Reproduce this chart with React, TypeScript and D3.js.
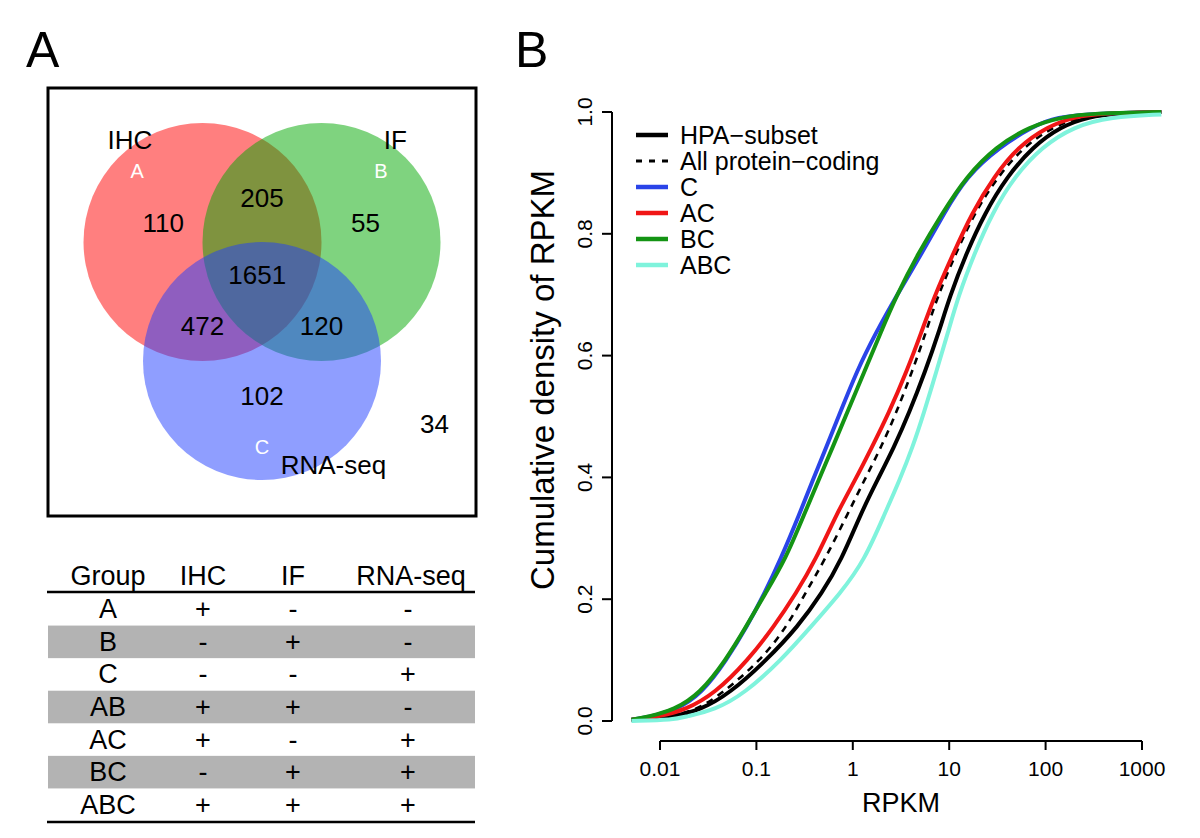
import React from "react";
import * as d3 from "d3";

const FONT = "'Liberation Sans', Arial, Helvetica, sans-serif";

// ---------- Panel A: Venn ----------
const vennSets = ["IHC", "IF", "RNA-seq"];
const vennLetters = ["A", "B", "C"];
const vennFills = ["#ff0000", "#00a800", "#1f3dff"];
const vennCentersU: [number, number][] = [[-0.5, 0], [0.5, 0], [0, 1]];
const vennSetLabelPos: [number, number][] = [[-1.11, -0.86], [1.12, -0.86], [0.6, 1.87]];
const vennLetterPos: [number, number][] = [[-1.05, -0.6], [1.0, -0.6], [0, 1.72]];
const vennRegionLabels = ["110", "205", "55", "1651", "472", "120", "102", "34"];
const vennRegionPos: [number, number][] = [
  [-0.83, -0.16], [0, -0.37], [0.87, -0.16], [-0.04, 0.28],
  [-0.5, 0.71], [0.5, 0.71], [0, 1.29], [1.45, 1.53],
];

// ---------- Panel A: table ----------
const tableHeader = ["Group", "IHC", "IF", "RNA-seq"];
const tableGroups = ["A", "B", "C", "AB", "AC", "BC", "ABC"];
const tableIHC = ["+", "-", "-", "+", "+", "-", "+"];
const tableIF = ["-", "+", "-", "+", "-", "+", "+"];
const tableRNA = ["-", "-", "+", "-", "+", "+", "+"];

// ---------- Panel B: cumulative density curves [RPKM, cdf] ----------
const hpaSubset: [number, number][] = [
  [0.00506, 0.002], [0.014, 0.007], [0.026, 0.018], [0.0527, 0.045], [0.1274, 0.1],
  [0.27, 0.155], [0.48, 0.21], [0.76, 0.264], [1.213, 0.341], [1.805, 0.396],
  [2.686, 0.45], [3.826, 0.505], [5.695, 0.576], [7.761, 0.637], [10.12, 0.697],
  [15.05, 0.768], [23.42, 0.834], [39.8, 0.894], [73.88, 0.943], [143.4, 0.976],
  [278.2, 0.992], [564, 0.998], [1586, 1.0],
];
const allProteinCoding: [number, number][] = [
  [0.00506, 0.002], [0.0128, 0.007], [0.0238, 0.018], [0.0441, 0.045], [0.1116, 0.1],
  [0.2071, 0.155], [0.3221, 0.21], [0.51, 0.264], [0.8903, 0.341], [1.325, 0.396],
  [1.972, 0.45], [2.808, 0.505], [4.179, 0.576], [5.695, 0.637], [7.558, 0.697],
  [11.75, 0.768], [18.28, 0.834], [31.91, 0.894], [59.23, 0.943], [120.1, 0.976],
  [233, 0.992], [472.6, 0.998], [1586, 1.0],
];
const groupC: [number, number][] = [
  [0.00506, 0.002], [0.00788, 0.007], [0.0146, 0.018], [0.0271, 0.045], [0.049, 0.1],
  [0.0798, 0.155], [0.1219, 0.21], [0.1766, 0.264], [0.2823, 0.341], [0.3845, 0.396],
  [0.5332, 0.45], [0.7329, 0.505], [1.11, 0.576], [1.727, 0.637], [2.808, 0.697],
  [5.21, 0.768], [8.859, 0.834], [15.05, 0.894], [33.36, 0.943], [73.88, 0.976],
  [125.5, 0.992], [362.5, 0.998], [1586, 1.0],
];
const groupAC: [number, number][] = [
  [0.00506, 0.002], [0.00982, 0.007], [0.0182, 0.018], [0.037, 0.045], [0.0819, 0.1],
  [0.1521, 0.155], [0.2584, 0.21], [0.41, 0.264], [0.6827, 0.341], [1.062, 0.396],
  [1.581, 0.45], [2.354, 0.505], [3.661, 0.576], [5.122, 0.637], [6.98, 0.697],
  [11.05, 0.768], [17.18, 0.834], [29.21, 0.894], [51.88, 0.943], [105.2, 0.976],
  [195.3, 0.992], [396, 0.998], [1586, 1.0],
];
const groupBC: [number, number][] = [
  [0.00506, 0.002], [0.00753, 0.007], [0.014, 0.018], [0.026, 0.045], [0.0482, 0.1],
  [0.0784, 0.155], [0.1241, 0.21], [0.1982, 0.264], [0.3166, 0.341], [0.443, 0.396],
  [0.6197, 0.45], [0.8671, 0.505], [1.337, 0.576], [1.938, 0.637], [2.808, 0.697],
  [4.77, 0.768], [8.475, 0.834], [15.05, 0.894], [30.53, 0.943], [67.6, 0.976],
  [149.9, 0.992], [303.8, 0.998], [1586, 1.0],
];
const groupABC: [number, number][] = [
  [0.00506, 0.0], [0.014, 0.002], [0.0182, 0.007], [0.037, 0.018], [0.075, 0.045],
  [0.1814, 0.1], [0.368, 0.155], [0.746, 0.21], [1.325, 0.264], [2.154, 0.341],
  [3.069, 0.396], [4.179, 0.45], [5.449, 0.505], [7.424, 0.576], [9.679, 0.637],
  [12.39, 0.697], [18.28, 0.768], [27.95, 0.834], [47.5, 0.894], [92.15, 0.943],
  [195.3, 0.976], [472.6, 0.992], [1586, 0.996],
];

const seriesNames = ["HPA\u2212subset", "All protein\u2212coding", "C", "AC", "BC", "ABC"];
const seriesData = [hpaSubset, allProteinCoding, groupC, groupAC, groupBC, groupABC];
const seriesColors = ["#000000", "#000000", "#2a44e8", "#f01616", "#149414", "#7ff3dc"];
const seriesDash = ["", "7,6", "", "", "", ""];
const seriesWidth = [4, 2.6, 4, 4, 4, 4];

const xTicks = [0.01, 0.1, 1, 10, 100, 1000];
const xTickLabels = ["0.01", "0.1", "1", "10", "100", "1000"];
const yTicks = [0, 0.2, 0.4, 0.6, 0.8, 1.0];

export default function App() {
  // Venn geometry
  const vx = d3.scaleLinear().domain([0, 1]).range([262, 381]);
  const vy = d3.scaleLinear().domain([0, 1]).range([242, 361]);
  const r = vx(1) - vx(0);

  // table geometry
  const colX = [108, 203, 293, 408];
  const headColX = [108, 203, 293, 411];
  const rowY = d3.scaleBand<number>().domain(d3.range(tableGroups.length)).range([593, 821]);

  // curves
  const x = d3.scaleLog().domain([0.01, 1000]).range([660, 1142]);
  const y = d3.scaleLinear().domain([0, 1]).range([721, 112]);
  const line = d3
    .line<[number, number]>()
    .x((d) => x(d[0]))
    .y((d) => y(d[1]))
    .curve(d3.curveBasis);

  const legendY = d3.scaleLinear().domain([0, 1]).range([135, 161]);

  return (
    <svg width={1200} height={838} style={{ display: "block", position: "absolute", left: 0, top: 0, background: "#fff" }} fontFamily={FONT}>
      <rect x={0} y={0} width={1200} height={838} fill="#fff" />
      {/* panel letters */}
      <text x={26} y={67} fontSize={50}>A</text>
      <text x={515} y={67} fontSize={50}>B</text>

      {/* Venn */}
      <rect x={48} y={88} width={428} height={428} fill="none" stroke="#000" strokeWidth={3} />
      {vennCentersU.map((c, i) => (
        <circle key={i} cx={vx(c[0])} cy={vy(c[1])} r={r} fill={vennFills[i]} fillOpacity={0.5} />
      ))}
      {vennSets.map((s, i) => (
        <text key={s} x={vx(vennSetLabelPos[i][0])} y={vy(vennSetLabelPos[i][1])} fontSize={26} textAnchor="middle" dominantBaseline="central">{s}</text>
      ))}
      {vennLetters.map((s, i) => (
        <text key={s} x={vx(vennLetterPos[i][0])} y={vy(vennLetterPos[i][1])} fontSize={20} fill="#fff" textAnchor="middle" dominantBaseline="central">{s}</text>
      ))}
      {vennRegionLabels.map((s, i) => (
        <text key={s} x={vx(vennRegionPos[i][0])} y={vy(vennRegionPos[i][1])} fontSize={26} textAnchor="middle" dominantBaseline="central">{s}</text>
      ))}

      {/* Table */}
      {tableGroups.map((g, i) =>
        i % 2 === 1 ? (
          <rect key={"bg" + g} x={48} y={rowY(i)!} width={427} height={rowY.bandwidth()} fill="#b3b3b3" />
        ) : null
      )}
      {tableHeader.map((h, i) => (
        <text key={h} x={headColX[i]} y={585} fontSize={27} textAnchor="middle">{h}</text>
      ))}
      <line x1={47} x2={475} y1={592} y2={592} stroke="#000" strokeWidth={2.5} />
      {tableGroups.map((g, i) => {
        const cy = rowY(i)! + rowY.bandwidth() / 2;
        const cells = [g, tableIHC[i], tableIF[i], tableRNA[i]];
        return cells.map((c, j) => (
          <text key={g + j} x={colX[j]} y={cy} fontSize={27} textAnchor="middle" dominantBaseline="central">{c}</text>
        ));
      })}
      <line x1={47} x2={475} y1={822} y2={822} stroke="#000" strokeWidth={2.5} />

      {/* Panel B axes */}
      <line x1={612} x2={612} y1={y(0)} y2={y(1)} stroke="#000" strokeWidth={2} />
      {yTicks.map((t) => (
        <g key={t}>
          <line x1={602} x2={612} y1={y(t)} y2={y(t)} stroke="#000" strokeWidth={2} />
          <text transform={`translate(592,${y(t)}) rotate(-90)`} fontSize={21} textAnchor="middle">{t.toFixed(1)}</text>
        </g>
      ))}
      <line x1={x(0.01)} x2={x(1000)} y1={741} y2={741} stroke="#000" strokeWidth={2} />
      {xTicks.map((t, i) => (
        <g key={t}>
          <line x1={x(t)} x2={x(t)} y1={741} y2={750} stroke="#000" strokeWidth={2} />
          <text x={x(t)} y={776} fontSize={21} textAnchor="middle">{xTickLabels[i]}</text>
        </g>
      ))}
      <text x={(x(0.01) + x(1000)) / 2} y={812} fontSize={27} textAnchor="middle">RPKM</text>
      <text transform={`translate(554,380) rotate(-90)`} fontSize={33} textAnchor="middle">Cumulative density of RPKM</text>

      {/* curves */}
      {seriesData.map((d, i) => (
        <path key={i} d={line(d) || ""} fill="none" stroke={seriesColors[i]} strokeWidth={seriesWidth[i]} strokeDasharray={seriesDash[i]} strokeLinejoin="round" />
      ))}

      {/* legend */}
      {seriesNames.map((n, i) => (
        <g key={n}>
          <line x1={636} x2={668} y1={legendY(i)} y2={legendY(i)} stroke={seriesColors[i]} strokeWidth={seriesWidth[i] + 0.5} strokeDasharray={i === 1 ? "6,7" : ""} />
          <text x={680} y={legendY(i)} fontSize={25} dominantBaseline="central">{n}</text>
        </g>
      ))}
    </svg>
  );
}
